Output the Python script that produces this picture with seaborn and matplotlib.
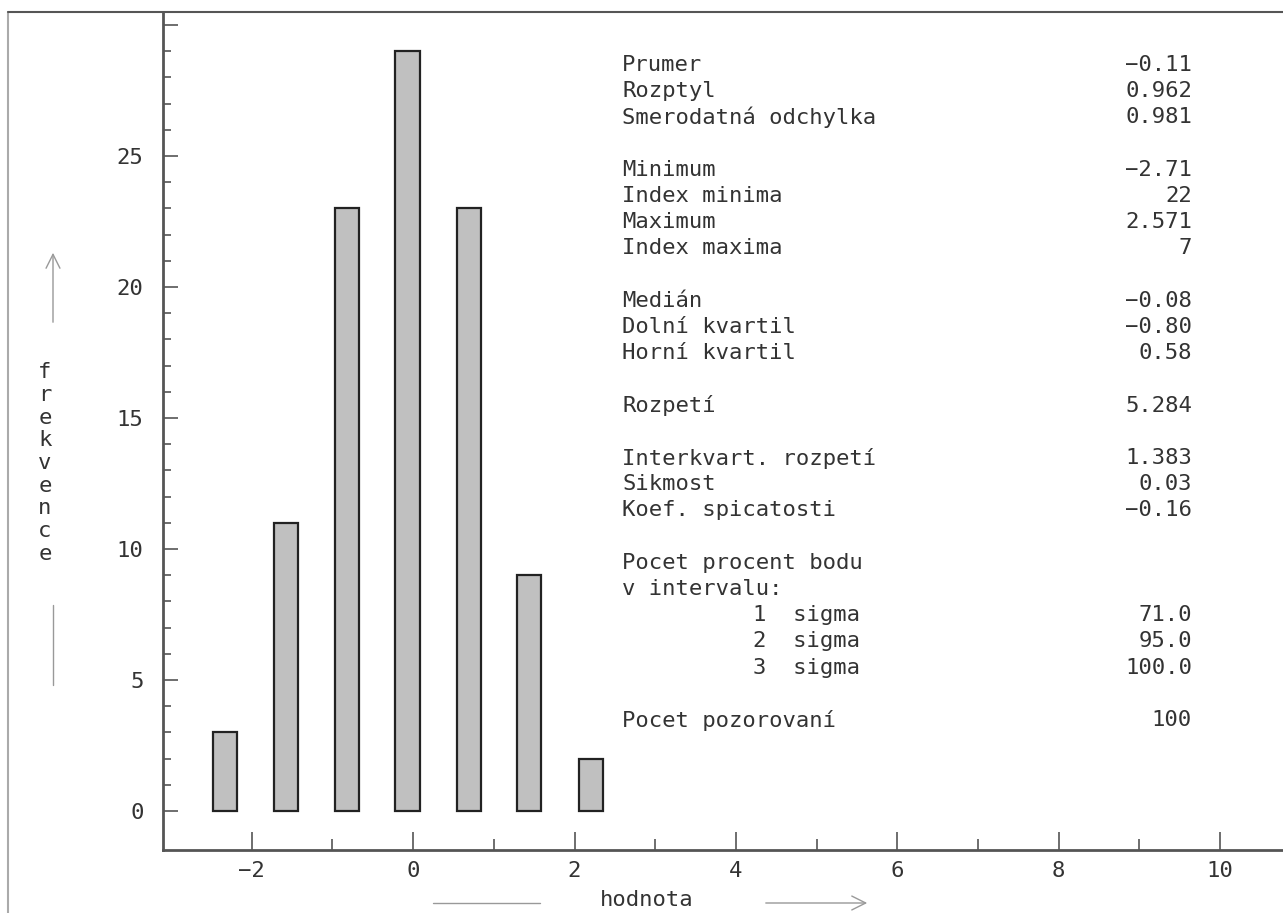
import pandas as pd
import seaborn as sns
import matplotlib.pyplot as plt
from matplotlib.lines import Line2D

# histogram data (bin centres)
bin_centers = [-2.33, -1.58, -0.82, -0.07, 0.69, 1.44, 2.20]
counts = [3, 11, 23, 29, 23, 9, 2]

# statistics panel
stat_labels = ['Prumer', 'Rozptyl', 'Smerodatná odchylka',
               'Minimum', 'Index minima', 'Maximum', 'Index maxima',
               'Medián', 'Dolní kvartil', 'Horní kvartil',
               'Rozpetí',
               'Interkvart. rozpetí', 'Sikmost', 'Koef. spicatosti',
               'Pocet procent bodu', 'v intervalu:', '1  sigma', '2  sigma', '3  sigma',
               'Pocet pozorovaní']
stat_values = ['\u22120.11', '0.962', '0.981',
               '\u22122.71', '22', '2.571', '7',
               '\u22120.08', '\u22120.80', '0.58',
               '5.284',
               '1.383', '0.03', '\u22120.16',
               '', '', '71.0', '95.0', '100.0',
               '100']
stat_rows = [0, 1, 2, 4, 5, 6, 7, 9, 10, 11, 13, 15, 16, 17, 19, 20, 21, 22, 23, 25]

x_major = [-2, 0, 2, 4, 6, 8, 10]
x_minor = [-1, 1, 3, 5, 7, 9]
y_major = [0, 5, 10, 15, 20, 25, 30]
y_labels = ['0', '5', '10', '15', '20', '25', '']

sns.set_style('white')
plt.rcParams['font.family'] = ['DejaVu Sans Mono', 'DejaVu Sans']
txt_col = '#333333'
line_col = '#555555'
fs = 16

W, H = 1283, 913
fig = plt.figure(figsize=(W / 100, H / 100), dpi=100)
ax = fig.add_axes([163 / W, (H - 850) / H, 1 - 163 / W, (850 - 12) / H])

df = pd.DataFrame({'hodnota': bin_centers, 'frekvence': counts})
sns.barplot(data=df, x='hodnota', y='frekvence', native_scale=True, width=0.4,
            color='#c0c0c0', saturation=1, edgecolor='#222222', linewidth=1.6, ax=ax)

ax.set_xlim(-3.1, 10.78)
ax.set_ylim(-1.49, 30.5)
ax.set_xlabel('')
ax.set_ylabel('')

ax.set_xticks(x_major, ['\u2212' + str(-v) if v < 0 else str(v) for v in x_major])
ax.set_xticks(x_minor, minor=True)
ax.set_yticks(y_major, y_labels)
ax.set_yticks([v for v in range(1, 30) if v % 5], minor=True)

ax.tick_params(axis='x', which='major', direction='in', length=13, width=1.2,
               color=line_col, labelsize=fs, labelcolor=txt_col, pad=8)
ax.tick_params(axis='x', which='minor', direction='in', length=8, width=1.2, color=line_col)
ax.tick_params(axis='y', which='major', direction='in', length=11, width=1.2,
               color=line_col, labelsize=fs, labelcolor=txt_col, pad=14)
ax.tick_params(axis='y', which='minor', direction='in', length=6, width=1.2, color=line_col)
ax.tick_params(bottom=True, left=True, which='both')

for s in ['top', 'right']:
    ax.spines[s].set_visible(False)
for s in ['left', 'bottom']:
    ax.spines[s].set_color(line_col)
    ax.spines[s].set_linewidth(2)

# statistics text
for lab, val, r in zip(stat_labels, stat_values, stat_rows):
    y = 1 - (65 + r * 26.2) / H
    lx = 753 if 'sigma' in lab else 622
    fig.text(lx / W, y, lab, ha='left', va='center', fontsize=fs, color=txt_col)
    if val:
        fig.text(1192 / W, y, val, ha='right', va='center', fontsize=fs, color=txt_col)

# axis labels with arrows
fig.text(45 / W, 1 - 463 / H, '\n'.join('frekvence'), ha='center', va='center',
         fontsize=fs, color=txt_col, linespacing=1.17)
fig.text(647 / W, 1 - 900 / H, 'hodnota', ha='center', va='center',
         fontsize=fs, color=txt_col)

arrow_col = '#999999'
fig.add_artist(Line2D([53 / W, 53 / W], [1 - 605 / H, 1 - 685 / H], color=arrow_col, lw=1))
ax.annotate('', xy=(53 / W, 1 - 250 / H), xytext=(53 / W, 1 - 325 / H),
            xycoords='figure fraction', textcoords='figure fraction',
            arrowprops=dict(arrowstyle='->', color=arrow_col, lw=1, mutation_scale=25),
            annotation_clip=False)
fig.add_artist(Line2D([433 / W, 540 / W], [1 - 903 / H, 1 - 903 / H], color=arrow_col, lw=1))
ax.annotate('', xy=(870 / W, 1 - 903 / H), xytext=(763 / W, 1 - 903 / H),
            xycoords='figure fraction', textcoords='figure fraction',
            arrowprops=dict(arrowstyle='->', color=arrow_col, lw=1, mutation_scale=25),
            annotation_clip=False)

# outer frame
fig.add_artist(Line2D([8 / W, 8 / W], [0, 1 - 12 / H], color='#aaaaaa', lw=1.5))
fig.add_artist(Line2D([8 / W, 1], [1 - 12 / H, 1 - 12 / H], color=line_col, lw=1.5))

fig.savefig('out.png', dpi=100)
